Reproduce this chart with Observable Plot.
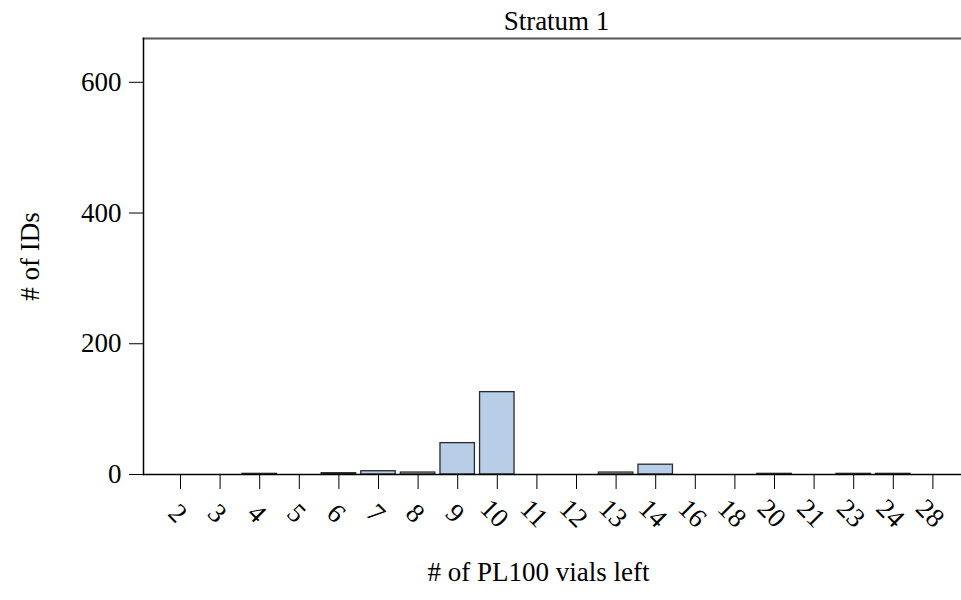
<!DOCTYPE html>
<html>
<head>
<meta charset="utf-8">
<script src="https://cdn.jsdelivr.net/npm/d3@7"></script>
<script src="https://cdn.jsdelivr.net/npm/@observablehq/plot@0.6"></script>
<style>
  html, body { margin: 0; padding: 0; background: #fff; }
  svg { display: block; }
</style>
</head>
<body>
<div id="chart"></div>
<script>
const categories = ["2","3","4","5","6","7","8","9","10","11","12","13","14","16","18","20","21","23","24","28"];
const counts     = [0, 0, 1, 0, 2, 5, 3, 48, 126, 0, 0, 3, 15, 0, 0, 1, 0, 1, 1, 0];
const yTicks = [0, 200, 400, 600];
const title = "Stratum 1";
const xLabel = "# of PL100 vials left";
const yLabel = "# of IDs";

const data = categories.map((c, i) => ({cat: c, n: counts[i]}));
const font = "'Liberation Serif', 'Times New Roman', serif";

const chart = Plot.plot({
  width: 961,
  height: 600,
  marginLeft: 143,
  marginRight: 0,
  marginTop: 38,
  marginBottom: 126,
  style: {fontFamily: font, fontSize: "26px", color: "#000", background: "#fff"},
  x: {type: "band", domain: categories, range: [160.2, 952.2], paddingInner: 0.13, paddingOuter: 0.065, round: false},
  y: {domain: [0, 667]},
  marks: [
    Plot.barY(data, {x: "cat", y: "n", fill: "#b8cee7", stroke: "#2a2a2a", strokeWidth: 1.3}),
    Plot.ruleY([0], {stroke: "#000", strokeWidth: 1.3}),
    Plot.frame({anchor: "top", stroke: "#555", strokeWidth: 2}),
    Plot.frame({anchor: "left", stroke: "#000", strokeWidth: 1.5}),
    Plot.axisY({ticks: yTicks, tickSize: 14, tickPadding: 8, fontSize: 27, label: null}),
    Plot.axisX({tickSize: 15, tickFormat: () => "", label: null}),
    Plot.text(categories, {x: d => d, frameAnchor: "bottom", dy: 45, dx: -9, rotate: 45, textAnchor: "middle", fontSize: 27}),
    Plot.text([yLabel], {frameAnchor: "left", textAnchor: "middle", dx: -113, rotate: -90, fontSize: 27}),
    Plot.text([title], {frameAnchor: "top", lineAnchor: "bottom", dy: -9, dx: 4, fontSize: 27}),
    Plot.text([xLabel], {frameAnchor: "bottom", dy: 106, dx: -14, fontSize: 27})
  ]
});
document.getElementById("chart").appendChild(chart);
</script>
</body>
</html>
